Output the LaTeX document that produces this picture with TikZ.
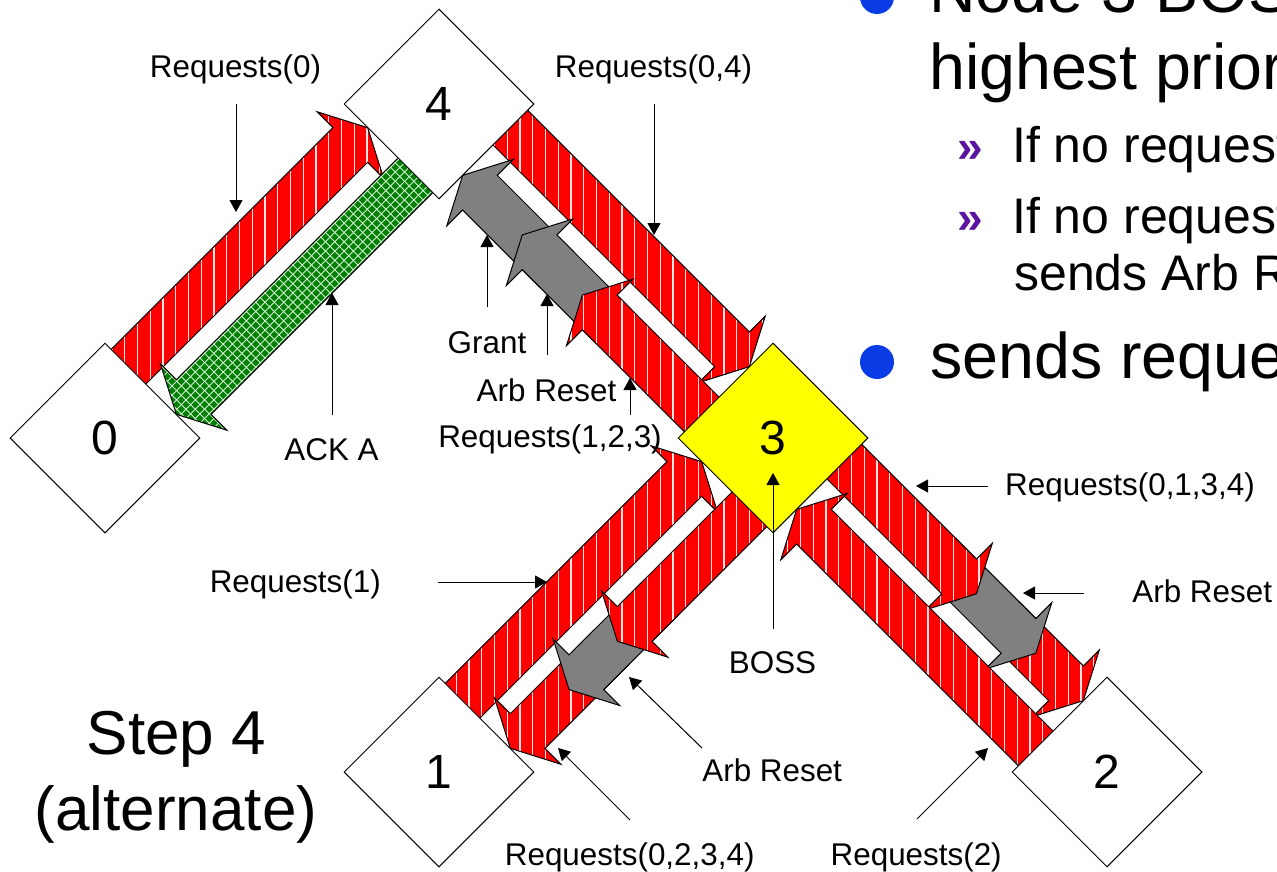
\documentclass[tikz,border=0pt]{standalone}
\usepackage{fontspec}
\setmainfont{Liberation Sans}
\usetikzlibrary{arrows.meta,shapes.geometric}
\definecolor{boxred}{RGB}{255,0,0}
\definecolor{stripecol}{RGB}{255,228,228}
\definecolor{ackgreen}{RGB}{0,128,0}
\definecolor{gridcol}{RGB}{215,240,215}
\definecolor{arbgray}{RGB}{128,128,128}
\definecolor{bossyellow}{RGB}{255,255,0}
\definecolor{bulletblue}{RGB}{10,60,230}
\definecolor{subpurple}{RGB}{90,20,160}
\tikzset{
  outl/.style={draw=black,line width=1},
  stripe/.style={draw=stripecol,line width=1.3},
  gridl/.style={draw=gridcol,line width=0.9},
  nodebox/.style={diamond,draw,line width=1,fill=white,minimum width=190pt,minimum height=190pt,inner sep=0pt,font=\fontsize{48}{50}\selectfont},
  lbl/.style={anchor=base,inner sep=0pt,font=\fontsize{31.4}{36}\selectfont},
  ptr/.style={line width=1,-{Triangle[width=13pt,length=12pt]}},
  bigtxt/.style={anchor=base west,inner sep=0pt,font=\fontsize{64.5}{70}\selectfont},
  subtxt/.style={anchor=base west,inner sep=0pt,font=\fontsize{50}{54}\selectfont},
  submark/.style={anchor=base west,inner sep=0pt,text=subpurple,font=\bfseries\fontsize{46}{50}\selectfont},
  bulletdot/.style={circle,fill=bulletblue,minimum size=34pt,inner sep=0pt}
}
\newcommand\mkarrow[5]{%
  \begin{scope}[shift={(#2)},rotate=#3]
    \coordinate (#1-1) at (#4,-9.2);
    \coordinate (#1-2) at ({#5-24.5},-9.2);
    \coordinate (#1-3) at ({#5-24.5},13.3);
    \coordinate (#1-4) at (#5,-33.7);
    \coordinate (#1-5) at ({#5-24.5},-80.7);
    \coordinate (#1-6) at ({#5-24.5},-58.2);
    \coordinate (#1-7) at (#4,-58.2);
  \end{scope}}
\newcommand\redarrow[1]{%
  \begin{scope}
    \clip (#1-1)--(#1-2)--(#1-3)--(#1-4)--(#1-5)--(#1-6)--(#1-7)--cycle;
    \fill[boxred] (0,0) rectangle (1277,872);
    \foreach \kk in {-45,...,60}{\draw[stripe] ({507.3+12.75*\kk},0) -- ++(0,872);}
  \end{scope}
  \draw[outl] (#1-1)--(#1-2)--(#1-3)--(#1-4)--(#1-5)--(#1-6)--(#1-7)--cycle;}
\newcommand\greenarrow[1]{%
  \begin{scope}
    \clip (#1-1)--(#1-2)--(#1-3)--(#1-4)--(#1-5)--(#1-6)--(#1-7)--cycle;
    \fill[ackgreen] (0,0) rectangle (1277,872);
    \foreach \kk in {10,...,110}{\draw[gridl] ({9.3*\kk},0) -- ++(-872,872);}
    \foreach \kk in {-60,...,60}{\draw[gridl] ({9.3*\kk},0) -- ++(872,872);}
  \end{scope}
  \draw[outl] (#1-1)--(#1-2)--(#1-3)--(#1-4)--(#1-5)--(#1-6)--(#1-7)--cycle;}
\newcommand\grayarrow[1]{%
  \filldraw[fill=arbgray,outl] (#1-1)--(#1-2)--(#1-3)--(#1-4)--(#1-5)--(#1-6)--(#1-7)--cycle;}
\begin{document}
\begin{tikzpicture}[x=1pt,y=-1pt]
\useasboundingbox (0,0) rectangle (1277,872);
\clip (0,0) rectangle (1277,872);
\fill[white] (0,0) rectangle (1277,872);
% node centres
\coordinate (c0) at (105,438);
\coordinate (c4) at (439,104);
\coordinate (c3) at (773,438);
\coordinate (c1) at (439,772);
\coordinate (c2) at (1107,772);
% link 0-4
\mkarrow{rq0}{c0}{45}{57}{405.17}\redarrow{rq0}
\mkarrow{ack}{c4}{-135}{57}{405.17}\greenarrow{ack}
% link 4-3
\mkarrow{rq04}{c4}{-45}{57}{405.17}\redarrow{rq04}
\mkarrow{grant}{c3}{135}{272}{405.17}\grayarrow{grant}
\mkarrow{arbA}{c3}{135}{192}{320.9}\grayarrow{arbA}
\mkarrow{rq123}{c3}{135}{57}{235.85}\redarrow{rq123}
% link 1-3
\mkarrow{rq1}{c1}{45}{57}{405.17}\redarrow{rq1}
\mkarrow{rq0234}{c3}{-135}{262}{405.17}\redarrow{rq0234}
\mkarrow{arbB}{c3}{-135}{192}{322.1}\grayarrow{arbB}
\mkarrow{rq13}{c3}{-135}{57}{253.8}\redarrow{rq13}
% link 3-2
\mkarrow{rq32b}{c3}{-45}{290}{405.17}\redarrow{rq32b}
\mkarrow{arbC}{c3}{-45}{200}{338}\grayarrow{arbC}
\mkarrow{rq0134}{c3}{-45}{57}{254}\redarrow{rq0134}
\mkarrow{rq2}{c2}{135}{57}{405.17}\redarrow{rq2}
% nodes
\node[nodebox] (n0) at (c0) {0};
\node[nodebox] (n4) at (c4) {4};
\node[nodebox] (n1) at (c1) {1};
\node[nodebox] (n2) at (c2) {2};
\node[nodebox,fill=bossyellow] (n3) at (c3) {3};
% labels
\node[lbl] (l0) at (235.5,78) {Requests(0)};
\node[lbl] (l04) at (653.5,78) {Requests(0,4)};
\node[lbl] (lgrant) at (487,353) {Grant};
\node[lbl] (larbA) at (546.5,401) {Arb Reset};
\node[lbl] (l123) at (550,447.5) {Requests(1,2,3)};
\node[lbl] (lack) at (331.5,460) {ACK A};
\node[lbl] (l1) at (295.3,592) {Requests(1)};
\node[lbl] (lboss) at (772.5,673) {BOSS};
\node[lbl] (larbB) at (772.2,781.5) {Arb Reset};
\node[lbl] (l0234) at (629.7,865) {Requests(0,2,3,4)};
\node[lbl] (l2) at (916.2,865) {Requests(2)};
\node[lbl] (l0134) at (1130,495) {Requests(0,1,3,4)};
\node[lbl] (larbC) at (1202.2,602.5) {Arb Reset};
% pointer ends
\coordinate (p0a) at (236,104);   \coordinate (p0b) at (236,212);
\coordinate (p04a) at (654,104);  \coordinate (p04b) at (654,235);
\coordinate (pga) at (487,307);   \coordinate (pgb) at (487,235);
\coordinate (paa) at (547,355);   \coordinate (pab) at (547,294);
\coordinate (p123a) at (630,415); \coordinate (p123b) at (630,378);
\coordinate (packa) at (332,415); \coordinate (packb) at (332,293);
\coordinate (p1a) at (438,582);   \coordinate (p1b) at (547,582);
\coordinate (pbossa) at (773,629);\coordinate (pbossb) at (773,473);
\coordinate (pba) at (702,748);   \coordinate (pbb) at (629,677);
\coordinate (p0234a) at (630,820);\coordinate (p0234b) at (558,748);
\coordinate (p2a) at (917,819);   \coordinate (p2b) at (988,748);
\coordinate (p0134a) at (988,486);\coordinate (p0134b) at (916,486);
\coordinate (pca) at (1084,593);  \coordinate (pcb) at (1023,593);
\draw[ptr] (p0a) -- (p0b);
\draw[ptr] (p04a) -- (p04b);
\draw[ptr] (pga) -- (pgb);
\draw[ptr] (paa) -- (pab);
\draw[ptr] (p123a) -- (p123b);
\draw[ptr] (packa) -- (packb);
\draw[ptr] (p1a) -- (p1b);
\draw[ptr] (pbossa) -- (pbossb);
\draw[ptr] (pba) -- (pbb);
\draw[ptr] (p0234a) -- (p0234b);
\draw[ptr] (p2a) -- (p2b);
\draw[ptr] (p0134a) -- (p0134b);
\draw[ptr] (pca) -- (pcb);
% step text
\node[anchor=base,inner sep=0pt,font=\fontsize{62}{70}\selectfont] (step) at (176.5,754) {Step 4};
\node[anchor=base,inner sep=0pt,font=\fontsize{62}{70}\selectfont] (alt) at (176,830) {(alternate)};
% right-hand text
\node[bulletdot] (b1) at (877,-3) {};
\node[bigtxt] (t1) at (929,13) {Node 3 BOSS};
\node[bigtxt] (t2) at (929,90) {highest prior};
\node[submark] (m1) at (957,163) {»};
\node[subtxt] (t3) at (1012,163) {If no request};
\node[submark] (m2) at (957,233) {»};
\node[subtxt] (t4) at (1012,233) {If no request};
\node[subtxt] (t5) at (1014,290) {sends Arb R};
\node[bulletdot] (b2) at (877,362) {};
\node[bigtxt] (t6) at (930,378) {sends reque};
\end{tikzpicture}
\end{document}
